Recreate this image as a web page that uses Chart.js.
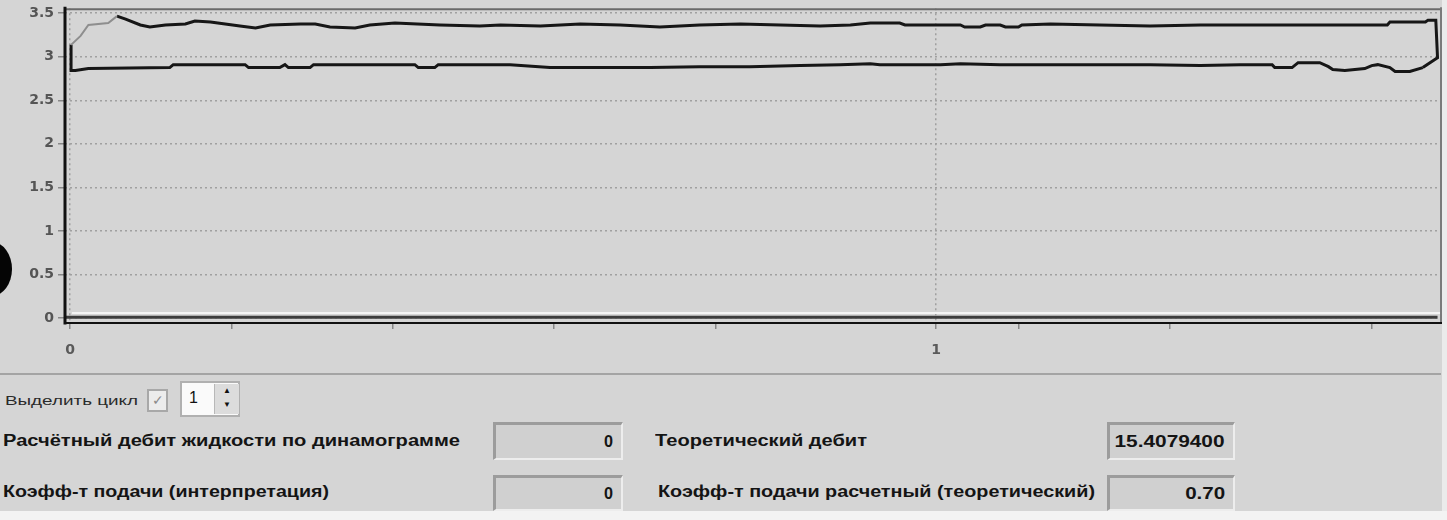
<!DOCTYPE html>
<html>
<head>
<meta charset="utf-8">
<script src="https://cdn.jsdelivr.net/npm/chart.js@4.4.1/dist/chart.umd.min.js"></script>
<style>
body { margin: 0; width: 1447px; height: 520px; background: #d5d5d5; overflow: hidden; position: relative; font-family: "Liberation Sans", Arial, sans-serif; }
#wrap { position: absolute; left: 0; top: 0; width: 1447px; height: 370px; }
.sep { position: absolute; left: 0; top: 373px; width: 1441px; height: 2px; background: #a4a4a4; }
.lbl { position: absolute; white-space: nowrap; transform-origin: 0 50%; color: #141414; font-weight: bold; font-size: 16px; line-height: 20px; }
.small { font-weight: normal; font-size: 13px; color: #2a2a2a; }
.box { position: absolute; box-sizing: border-box; border-top: 3px solid #9c9c9c; border-left: 3px solid #9c9c9c; border-right: 2px solid #ededed; border-bottom: 2px solid #ededed; background: #d0d0d0; }
.val { position: absolute; right: 8px; top: 50%; margin-top: -10px; white-space: nowrap; transform-origin: 100% 50%; font-weight: bold; font-size: 16px; line-height: 20px; color: #141414; }
.blob { position: absolute; left: -28px; top: 242px; width: 40px; height: 54px; border-radius: 50%; background: #050505; }
.chk { position: absolute; left: 147px; top: 389px; width: 21px; height: 23px; box-sizing: border-box; border: 2px solid #a8a8a8; background: #ececec; color: #8a8a8a; font-size: 14px; line-height: 18px; text-align: center; }
.spin { position: absolute; left: 180px; top: 381px; width: 60px; height: 36px; box-sizing: border-box; border: 2px solid #b0b0b0; background: #fafafa; }
.spin .num { position: absolute; left: 7px; top: 6px; font-size: 16px; color: #111; }
.spin .arr { position: absolute; left: 32px; top: 1px; width: 24px; height: 30px; background: #dcdcdc; border-left: 1px solid #b8b8b8; font-size: 8px; line-height: 14px; text-align: center; color: #111; }
.edge { position: absolute; left: 1442px; top: 0; width: 5px; height: 520px; background: #ebebeb; }
.foot { position: absolute; left: 0; top: 511px; width: 1447px; height: 9px; background: #f3f3f3; }
</style>
</head>
<body>
<div id="wrap"><canvas id="myChart" width="1447" height="370"></canvas></div>
<div class="blob"></div>
<div class="sep"></div>

<div class="lbl small" style="left:5px; top:391px;" data-w="133">Выделить цикл</div>
<div class="chk">✓</div>
<div class="spin"><span class="num">1</span><div class="arr">▲<br>▼</div></div>

<div class="lbl" style="left:3px; top:431px;" data-w="457">Расчётный дебит жидкости по динамограмме</div>
<div class="box" style="left:493px; top:422px; width:130px; height:38px;"><span class="val" data-w="9">0</span></div>
<div class="lbl" style="left:655px; top:431px;" data-w="212">Теоретический дебит</div>
<div class="box" style="left:1107px; top:422px; width:128px; height:38px;"><span class="val" data-w="110">15.4079400</span></div>

<div class="lbl" style="left:3px; top:482px;" data-w="326">Коэфф-т подачи (интерпретация)</div>
<div class="box" style="left:493px; top:475px; width:130px; height:36px;"><span class="val" data-w="9">0</span></div>
<div class="lbl" style="left:658px; top:482px;" data-w="437">Коэфф-т подачи расчетный (теоретический)</div>
<div class="box" style="left:1107px; top:475px; width:128px; height:36px;"><span class="val" data-w="40">0.70</span></div>

<div class="edge"></div>
<div class="foot"></div>

<script>
const ctx = document.getElementById('myChart');

// axis ticks
const yTickValues = [0, 0.5, 1, 1.5, 2, 2.5, 3, 3.5];
const xTickValues = [0, 0.187, 0.372, 0.558, 0.745, 1, 1.095, 1.27, 1.503];
const xTickLabels = [0, 1];

// baseline at zero (dark) and its light edge
const baseX = [-0.005, 1.579];
const baseY = [0.01, 0.01];
const edgeX = [0.002, 1.583];
const edgeY = [0.057, 0.057];

// grey start of the stroke
const startX = [0.001, 0.012, 0.021, 0.044, 0.054];
const startY = [3.136, 3.239, 3.364, 3.386, 3.466];

// upper (up-stroke) branch, left to right, then the right side going down
const upperX = [0.054, 0.064, 0.081, 0.092, 0.110, 0.133, 0.144, 0.162, 0.196, 0.214, 0.231, 0.266, 0.283, 0.300, 0.329, 0.346, 0.375, 0.427, 0.473, 0.497,
    0.543, 0.589, 0.635, 0.681, 0.727, 0.774, 0.820, 0.866, 0.901, 0.924, 0.958, 0.964, 1.028, 1.033, 1.051, 1.057, 1.074, 1.080, 1.095, 1.099,
    1.132, 1.189, 1.247, 1.305, 1.363, 1.521, 1.524, 1.565, 1.568, 1.577, 1.579, 1.562];
const upperY = [3.466, 3.432, 3.364, 3.341, 3.364, 3.375, 3.409, 3.398, 3.352, 3.330, 3.364, 3.375, 3.375, 3.341, 3.330, 3.364, 3.386, 3.364, 3.352, 3.364,
    3.352, 3.375, 3.364, 3.341, 3.364, 3.375, 3.364, 3.352, 3.364, 3.386, 3.386, 3.364, 3.364, 3.341, 3.341, 3.364, 3.364, 3.341, 3.341, 3.364,
    3.375, 3.364, 3.352, 3.364, 3.364, 3.364, 3.398, 3.398, 3.420, 3.420, 2.989, 2.875];

// lower (down-stroke) branch, right to left, closing up at x = 0
const lowerX = [1.562, 1.547, 1.530, 1.524, 1.510, 1.503, 1.495, 1.472, 1.458, 1.453, 1.443, 1.418, 1.411, 1.391, 1.388, 1.351, 1.305, 1.247, 1.189,
    1.132, 1.074, 1.028, 1.005, 0.935, 0.924, 0.889, 0.843, 0.785, 0.727, 0.670, 0.612, 0.554, 0.508, 0.425, 0.421, 0.402, 0.398, 0.281, 0.277,
    0.252, 0.248, 0.242, 0.206, 0.202, 0.119, 0.115, 0.021, 0.006, 0.001, 0.001];
const lowerY = [2.875, 2.830, 2.830, 2.875, 2.909, 2.898, 2.864, 2.841, 2.852, 2.886, 2.932, 2.932, 2.875, 2.875, 2.909, 2.909, 2.898, 2.909, 2.909,
    2.909, 2.909, 2.920, 2.909, 2.909, 2.920, 2.909, 2.898, 2.886, 2.886, 2.875, 2.875, 2.875, 2.909, 2.909, 2.875, 2.875, 2.909, 2.909, 2.875,
    2.875, 2.909, 2.875, 2.875, 2.909, 2.909, 2.875, 2.864, 2.841, 2.841, 3.136];

function pts(xs, ys) {
    return xs.map((x, i) => ({ x: x, y: ys[i] }));
}

function line(data, color, width) {
    return { data: data, borderColor: color, borderWidth: width, showLine: true, pointRadius: 0, fill: false, tension: 0 };
}

const frame = {
    id: 'frame',
    afterDatasetsDraw(chart) {
        const a = chart.chartArea;
        const c = chart.ctx;
        c.save();
        c.lineCap = 'square';
        c.strokeStyle = '#6a6a6a'; c.lineWidth = 2;
        c.beginPath(); c.moveTo(a.left, a.top + 1); c.lineTo(a.right, a.top + 1); c.stroke();
        c.strokeStyle = '#7a7a7a';
        c.beginPath(); c.moveTo(a.right, a.top); c.lineTo(a.right, a.bottom); c.stroke();
        c.strokeStyle = '#111'; c.lineWidth = 3;
        c.beginPath(); c.moveTo(a.left, a.top); c.lineTo(a.left, a.bottom); c.stroke();
        c.lineWidth = 2;
        c.beginPath(); c.moveTo(a.left, a.bottom); c.lineTo(a.right + 1, a.bottom); c.stroke();
        c.restore();
    }
};

const tickFont = { family: 'DejaVu Sans', size: 14, weight: 'bold', lineHeight: 0.6 };

let myChart = new Chart(ctx, {
    type: 'scatter',
    data: {
        datasets: [
            line(pts(edgeX, edgeY), '#f4f4f4', 2),
            line(pts(baseX, baseY), '#3c3c3c', 3),
            line(pts(startX, startY), '#8e8e8e', 2),
            line(pts(upperX, upperY), '#161616', 3),
            line(pts(lowerX, lowerY), '#161616', 3)
        ]
    },
    options: {
        responsive: false,
        animation: false,
        layout: { padding: { top: 5, right: 6, left: 0, bottom: 0 } },
        plugins: { legend: { display: false }, tooltip: { enabled: false } },
        scales: {
            x: {
                type: 'linear',
                min: -0.006,
                max: 1.583,
                afterBuildTicks: s => { s.ticks = xTickValues.map(v => ({ value: v })); },
                afterFit: s => { s.height = 47; },
                ticks: {
                    autoSkip: false,
                    maxRotation: 0,
                    padding: 13,
                    color: '#5a5a5a',
                    font: { family: 'DejaVu Sans', size: 14, weight: 'bold' },
                    callback: v => xTickLabels.includes(v) ? String(v) : ''
                },
                grid: {
                    color: c => (c.tick && xTickLabels.includes(c.tick.value)) ? '#a0a0a0' : 'rgba(0,0,0,0)',
                    lineWidth: 1.5,
                    tickColor: '#888',
                    tickLength: 6
                },
                border: { display: false, dash: [2, 3] }
            },
            y: {
                min: -0.057,
                max: 3.557,
                afterBuildTicks: s => { s.ticks = yTickValues.map(v => ({ value: v })); },
                afterFit: s => { s.width = 65; },
                ticks: {
                    padding: 4,
                    color: '#555',
                    font: tickFont,
                    callback: v => String(v)
                },
                grid: {
                    color: '#a0a0a0',
                    lineWidth: 1.5,
                    tickColor: '#888',
                    tickLength: 7
                },
                border: { display: false, dash: [2, 3] }
            }
        }
    },
    plugins: [frame]
});

// stretch texts to the widths seen in the screenshot
document.querySelectorAll('[data-w]').forEach(el => {
    const w = el.getBoundingClientRect().width;
    const k = Number(el.dataset.w) / w;
    el.style.transform = 'scaleX(' + k + ')';
});
</script>
</body>
</html>
